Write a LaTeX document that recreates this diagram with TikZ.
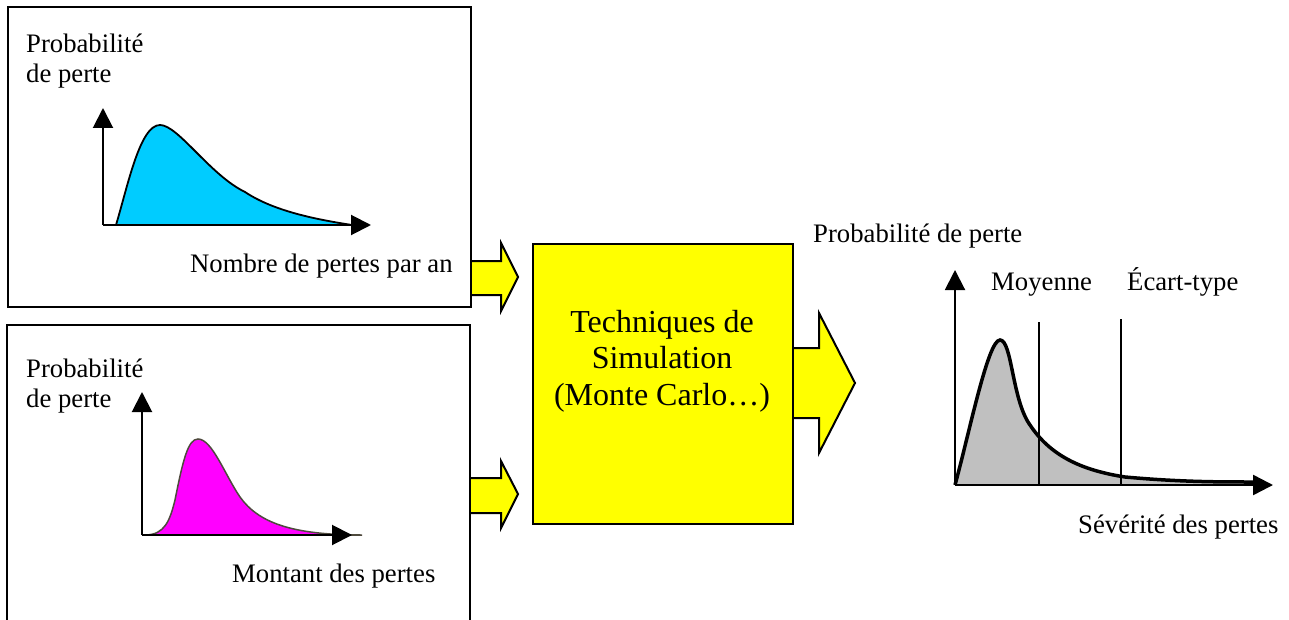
\documentclass[tikz,border=0pt]{standalone}
\usepackage{fontspec}
\setmainfont{Liberation Serif}
\usetikzlibrary{arrows.meta}
\definecolor{cyanfill}{HTML}{00CCFF}
\definecolor{magfill}{HTML}{FF00FF}
\definecolor{grayfill}{HTML}{C0C0C0}
\definecolor{yel}{HTML}{FFFF00}
\begin{document}
\begin{tikzpicture}[x=1pt,y=-1pt,line join=miter,
  lbl/.style={inner sep=0pt,anchor=base west,font=\fontsize{26.7}{32}\selectfont},
  simtxt/.style={inner sep=0pt,anchor=base,font=\fontsize{32}{36}\selectfont},
  axis/.style={line width=2pt,-{Triangle[length=20pt,width=20pt]}},
  yarrow/.style={fill=yel,draw=black,line width=2pt},
  frame/.style={draw=black,line width=2pt}]
\useasboundingbox (0,0) rectangle (1289,620);

% yellow input arrows
\filldraw[yarrow] (470,261) -- (501,261) -- (501,243) -- (518,277) -- (501,311) -- (501,295) -- (470,295);
\filldraw[yarrow] (470,478) -- (501,478) -- (501,461) -- (518,494) -- (501,528) -- (501,513) -- (470,513);

% frames
\node[frame,minimum width=463pt,minimum height=300pt,inner sep=0pt,anchor=north west] (box1) at (7,6) {};
\draw[frame] (7,640) -- (7,325) -- (470,325) -- (470,640);
\coordinate (box2) at (238,470);

% ---- top chart
\filldraw[fill=cyanfill,draw=black,line width=1.8pt] (116,225) .. controls (128,185) and (140,125) .. (160,125)
  .. controls (178,125) and (210,175) .. (245,192)
  .. controls (275,212) and (320,220) .. (352,225) -- cycle;
\coordinate (o1) at (103,225);
\coordinate (y1) at (103,108);
\coordinate (x1) at (371,225);
\draw[axis] (o1) -- (y1);
\draw[axis] (o1) -- (x1);
\node[lbl] (p1a) at (26,53) {Probabilité};
\node[lbl] (p1b) at (26,83) {de perte};
\node[lbl] (n1) at (190,272) {Nombre de pertes par an};

% ---- bottom chart
\filldraw[fill=magfill,draw=black!80!yellow,line width=1.5pt] (145,535) .. controls (165,535) and (170,520) .. (175,500)
  .. controls (183,460) and (188,439) .. (198,439)
  .. controls (212,439) and (225,475) .. (240,497)
  .. controls (258,522) and (290,535) .. (362,535) -- cycle;
\coordinate (o2) at (142,535);
\coordinate (y2) at (142,392);
\coordinate (x2) at (352,535);
\draw[axis] (o2) -- (y2);
\draw[axis] (o2) -- (x2);
\node[lbl] (p2a) at (26,377) {Probabilité};
\node[lbl] (p2b) at (26,407) {de perte};
\node[lbl] (m2) at (232,582) {Montant des pertes};

% ---- simulation box
\filldraw[yarrow] (792,348) -- (819,348) -- (819,313) -- (855,383) -- (819,453) -- (819,418) -- (792,418);
\node[frame,fill=yel,minimum width=260pt,minimum height=280pt,inner sep=0pt,anchor=north west] (sim) at (532,243) {};
\node[simtxt] (s1) at (662,332) {Techniques de};
\node[simtxt] (s2) at (662,368) {Simulation};
\node[simtxt] (s3) at (662,405) {(Monte Carlo…)};

% ---- result chart
\fill[grayfill] (955,485) .. controls (970,430) and (988,340) .. (1000,340)
  .. controls (1012,340) and (1012,400) .. (1030,425)
  .. controls (1050,455) and (1080,470) .. (1125,477)
  .. controls (1180,482) and (1220,482) .. (1253,482) -- (1253,485) -- cycle;
\coordinate (o3) at (955,485);
\coordinate (y3) at (955,270);
\coordinate (x3) at (1273,485);
\coordinate (mt) at (1039,322);
\coordinate (mb) at (1039,485);
\coordinate (et) at (1121,319);
\coordinate (eb) at (1121,485);
\draw[line width=1.5pt] (mt) -- (mb);
\draw[line width=1.5pt] (et) -- (eb);
\draw[line width=3.5pt] (955,485) .. controls (970,430) and (988,340) .. (1000,340)
  .. controls (1012,340) and (1012,400) .. (1030,425)
  .. controls (1050,455) and (1080,470) .. (1125,477)
  .. controls (1180,482) and (1220,482) .. (1253,482);
\draw[axis] (o3) -- (y3);
\draw[axis,line width=2.5pt] (o3) -- (x3);
\node[lbl] (p3) at (813,243) {Probabilité de perte};
\node[lbl] (moy) at (991,290) {Moyenne};
\node[lbl] (ect) at (1127,290) {Écart-type};
\node[lbl] (sev) at (1078,533) {Sévérité des pertes};
\end{tikzpicture}
\end{document}
